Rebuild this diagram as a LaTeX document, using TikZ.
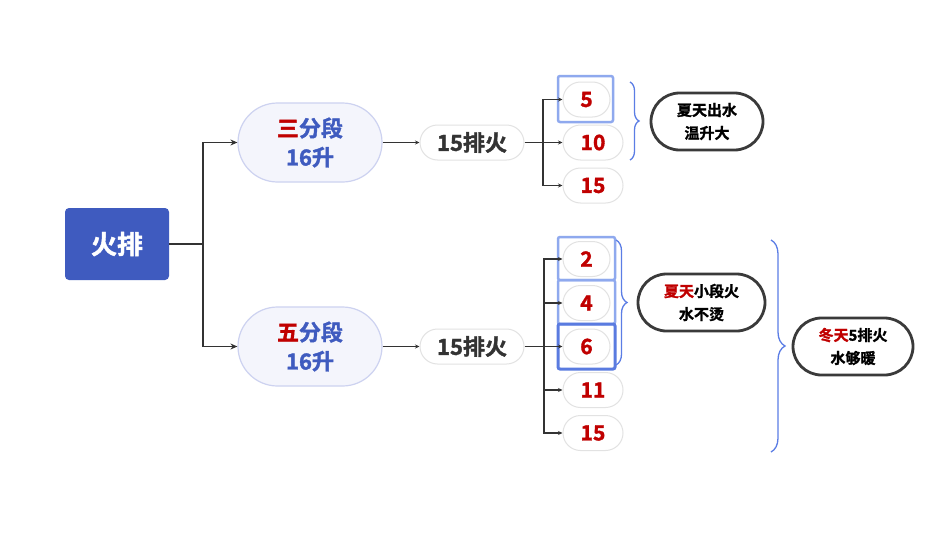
\documentclass[tikz,border=0pt]{standalone}
\usepackage{fontspec}
\setmainfont{Noto Sans CJK SC}[BoldFont={Noto Sans CJK SC Bold}, BoldFeatures={FakeBold=1.6}]
\usetikzlibrary{shapes.misc,decorations.pathreplacing,arrows.meta}
\definecolor{rootblue}{HTML}{3F5BBF}
\definecolor{darkred}{HTML}{C00000}
\definecolor{lav}{HTML}{F4F5FC}
\definecolor{lavborder}{HTML}{CDD2F0}
\definecolor{pillborder}{HTML}{E2E2E2}
\definecolor{hl}{HTML}{8FA9EE}
\definecolor{hldark}{HTML}{5A7BE0}
\definecolor{bracecol}{HTML}{5B7DE5}
\definecolor{txtgray}{HTML}{333333}
\definecolor{notebord}{HTML}{3A3A3A}
\tikzset{
  rootbox/.style={fill=rootblue, draw=none, rounded corners=4pt, minimum width=104pt, minimum height=72pt, inner sep=0pt, text=white, font=\bfseries\fontsize{26}{30}\selectfont},
  seg/.style={rounded rectangle, fill=lav, draw=lavborder, line width=1.2pt, minimum width=144pt, minimum height=79pt, inner sep=0pt, align=center, text=rootblue, font=\bfseries\fontsize{22}{29}\selectfont},
  pillf/.style={rounded rectangle, fill=white, draw=pillborder, line width=1pt, minimum width=104pt, minimum height=35pt, inner sep=0pt, text=txtgray, font=\bfseries\fontsize{22}{25}\selectfont},
  numA/.style={rounded rectangle, fill=white, draw=pillborder, line width=1pt, minimum width=47pt, minimum height=35pt, inner sep=0pt, text=darkred, font=\bfseries\fontsize{21}{25}\selectfont},
  numB/.style={numA, minimum width=60pt},
  hlbox/.style={draw=hl, line width=2.5pt, rounded corners=2pt, inner sep=0pt, minimum width=57pt},
  hlboxd/.style={hlbox, draw=hldark, line width=3pt},
  note/.style={rounded rectangle, fill=white, draw=notebord, line width=2.8pt, minimum height=57pt, inner sep=0pt, align=center, text=black, font=\bfseries\fontsize{15}{23}\selectfont},
  bconn/.style={draw=txtgray, line width=1.8pt},
  bconnA/.style={bconn, -{Stealth[length=7pt,width=6pt]}},
  sconn/.style={draw=txtgray, line width=1.1pt},
  sconnA/.style={sconn, -{Stealth[length=4.5pt,width=4pt]}},
  bracepath/.style={draw=bracecol, line width=1.3pt, decorate, decoration={brace, amplitude=#1}},
}
\begin{document}
\begin{tikzpicture}[x=1pt,y=-1pt]
\useasboundingbox (0,0) rectangle (945,554);
\fill[white] (0,0) rectangle (945,554);

% highlight boxes (drawn first, behind pills)
\node[hlbox, minimum width=55pt, minimum height=46pt] (h5) at (585.5,99) {};
\node[hlbox, minimum height=43pt] (h2) at (586.5,258.5) {};
\node[hlbox, minimum height=44pt] (h4) at (586.5,302) {};
\node[hlboxd, minimum height=45pt] (h6) at (586.5,346.5) {};

\node[rootbox] (root) at (117,244) {火排};
\node[seg] (s1) at (310,142.5) {\textcolor{darkred}{三}分段\\16升};
\node[seg] (s2) at (310,346.5) {\textcolor{darkred}{五}分段\\16升};
\node[pillf] (p1) at (472,142.5) {15排火};
\node[pillf] (p2) at (472,346.5) {15排火};

\node[numA] (n5) at (586.5,99.5) {5};
\node[numB] (n10) at (593,142.5) {10};
\node[numB] (n15a) at (593,185.5) {15};

\node[numA] (n2) at (586.5,259) {2};
\node[numA] (n4) at (586.5,303) {4};
\node[numA] (n6) at (586.5,346.5) {6};
\node[numB] (n11) at (593,390) {11};
\node[numB] (n15b) at (593,433) {15};

\node[note, minimum width=112pt] (t1) at (707,121.5) {夏天出水\\温升大};
\node[note, minimum width=127pt] (t2) at (701.5,302.5) {\textcolor{darkred}{夏天}小段火\\水不烫};
\node[note, minimum width=120pt] (t3) at (853,346.5) {\textcolor{darkred}{冬天}5排火\\水够暖};

% connectors
\coordinate (j0) at (203,244);
\draw[bconn] (root.east) -- (j0);
\draw[bconnA] (j0) |- (s1.west);
\draw[bconnA] (j0) |- (s2.west);

\draw[sconnA] (s1.east) -- (p1.west);
\draw[sconnA] (s2.east) -- (p2.west);

\coordinate (j1) at (543,142.5);
\draw[sconn] (p1.east) -- (j1);
\draw[sconnA] (j1) |- (n5.west);
\draw[sconnA] (j1) -- (n10.west);
\draw[sconnA] (j1) |- (n15a.west);

\coordinate (j2) at (544,346.5);
\draw[sconn] (p2.east) -- (j2);
\draw[sconnA] (j2) |- (n2.west);
\draw[sconnA] (j2) |- (n4.west);
\draw[sconnA] (j2) -- (n6.west);
\draw[sconnA] (j2) |- (n11.west);
\draw[sconnA] (j2) |- (n15b.west);

% braces
\coordinate (b1a) at (630,82);
\coordinate (b1b) at (630,160);
\draw[bracepath=9pt] (b1a) -- (b1b);
\coordinate (b2a) at (616,240);
\coordinate (b2b) at (616,365);
\draw[bracepath=11pt] (b2a) -- (b2b);
\coordinate (b3a) at (771,240);
\coordinate (b3b) at (771,452);
\draw[bracepath=14pt] (b3a) -- (b3b);
\end{tikzpicture}
\end{document}
